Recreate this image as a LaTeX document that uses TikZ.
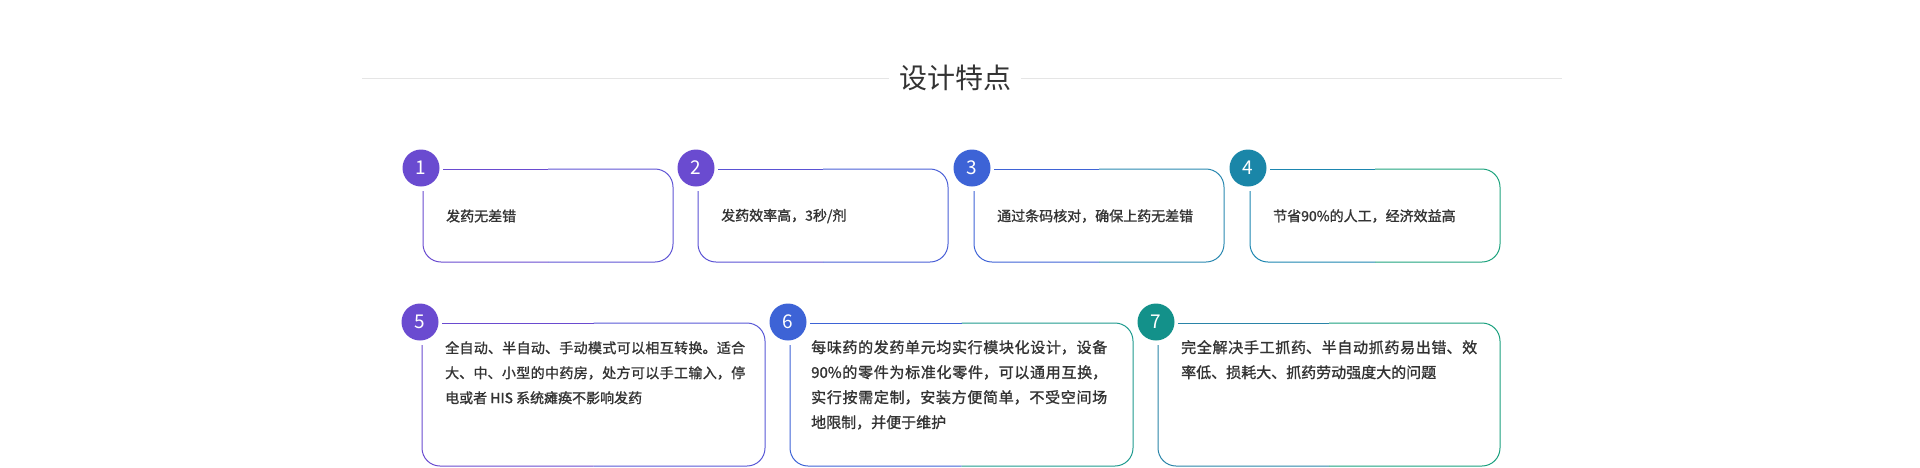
\documentclass[tikz,border=0pt]{standalone}
\usepackage{fontspec}
\newfontfamily\cjk{Noto Sans CJK SC}
\newfontfamily\cjkb{Noto Sans CJK SC}[FakeBold=1.3]
\XeTeXlinebreaklocale "zh"
\XeTeXlinebreakskip=0pt plus 1pt
\definecolor{txt}{HTML}{333333}
\definecolor{cA}{HTML}{6A4BD0}\definecolor{cB}{HTML}{5F55D4}
\definecolor{cC}{HTML}{5A52D4}\definecolor{cD}{HTML}{4A5FD6}
\definecolor{cE}{HTML}{3F63D6}\definecolor{cF}{HTML}{2A88B0}
\definecolor{cG}{HTML}{1D86B0}\definecolor{cH}{HTML}{1EA37E}
\definecolor{cI}{HTML}{5858D6}
\definecolor{cJ}{HTML}{3D63D6}\definecolor{cK}{HTML}{1E9A8E}
\definecolor{cL}{HTML}{2A84A8}\definecolor{cM}{HTML}{1AA07E}
\definecolor{nP}{HTML}{6A4BD0}\definecolor{nB}{HTML}{3D63D6}
\definecolor{nC}{HTML}{1A86A8}\definecolor{nT}{HTML}{13918A}
\tikzset{numc/.style={circle,minimum size=37pt,inner sep=0pt,text=white,font=\cjk\fontsize{19}{19}\selectfont},
 body/.style={anchor=north west,text=txt,font=\cjkb\fontsize{14}{25}\selectfont,inner sep=0pt,align=justify},
 bodyw/.style={body,font=\cjkb\fontsize{15}{25}\selectfont},
 bord/.style={line width=1pt,rounded corners=18pt}}
\newcommand\featbox[9]{%
 \pgfmathsetmacro\mid{(#2+#4)/2}%
 \draw[bord,#6] (#2,#3+22) |- (\mid,#5);
 \draw[bord,#7] (\mid,#5) -| (#4,#3) -- (\mid,#3);
 \draw[line width=1pt,#6] (#2+20,#3) -- (\mid,#3);
 \node[numc,fill=#9] (n#1) at (#2-2,#3-1) {#8};
}
\begin{document}
\begin{tikzpicture}[x=1pt,y=-1pt]
\useasboundingbox (0,0) rectangle (1920,467);
\node[text=txt,font=\cjk\fontsize{28}{28}\selectfont] (title) at (955,78) {设计特点};
\coordinate (l1) at (362,78); \coordinate (l2) at (1562,78);
\draw[black!10,line width=0.8pt] (l1) -- ([xshift=-6pt]title.west);
\draw[black!10,line width=0.8pt] ([xshift=6pt]title.east) -- (l2);
\featbox{1}{423}{169}{673}{262}{cA}{cB}{1}{nP}
\featbox{2}{698}{169}{948}{262}{cC}{cD}{2}{nP}
\featbox{3}{974}{169}{1224}{262}{cE}{cF}{3}{nB}
\featbox{4}{1250}{169}{1500}{262}{cG}{cH}{4}{nC}
\featbox{5}{422}{323}{765}{466}{cA}{cI}{5}{nP}
\featbox{6}{790}{323}{1133}{466}{cJ}{cK}{6}{nB}
\featbox{7}{1158}{323}{1500}{466}{cL}{cM}{7}{nT}
\node[body,anchor=west] (t1) at (446,216) {发药无差错};
\node[body,anchor=west] (t2) at (721,216) {发药效率高，3秒/剂};
\node[body,anchor=west] (t3) at (997,216) {通过条码核对，确保上药无差错};
\node[body,anchor=west] (t4) at (1273,216) {节省90\%的人工，经济效益高};
\node[body,text width=300pt] (t5) at (445,341) {全自动、半自动、手动模式可以相互转换。适合大、中、小型的中药房，处方可以手工输入，停电或者 HIS 系统瘫痪不影响发药};
\node[bodyw,text width=296pt] (t6) at (811,340) {每味药的发药单元均实行模块化设计，设备90\%的零件为标准化零件，可以通用互换，实行按需定制，安装方便简单，不受空间场地限制，并便于维护};
\node[bodyw,text width=296pt] (t7) at (1181,340) {完全解决手工抓药、半自动抓药易出错、效率低、损耗大、抓药劳动强度大的问题};
\end{tikzpicture}
\end{document}
